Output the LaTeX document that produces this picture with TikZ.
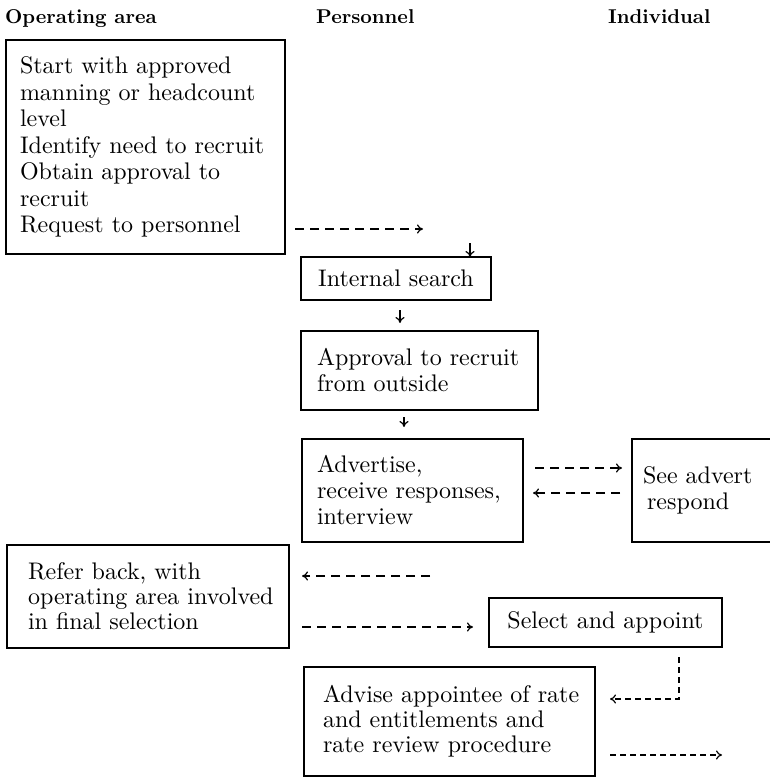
\documentclass[tikz,border=0pt]{standalone}
\usepackage{fontspec}
\setmainfont{lmroman10}[Extension=.otf, UprightFont=*-regular, BoldFont=*-bold,
  ItalicFont=*-italic, BoldItalicFont=*-bolditalic]
\usetikzlibrary{arrows.meta,calc}
\begin{document}
\begin{tikzpicture}[x=1pt,y=-1pt,
  hdr/.style={anchor=base west, inner sep=0pt, font=\fontsize{20}{24}\selectfont\bfseries},
  box/.style={draw, line width=1.3pt, rectangle, anchor=north west, outer sep=0pt,
              inner xsep=0pt, inner ysep=0pt, align=left,
              font=\fontsize{24}{26}\selectfont},
  tight/.style={font=\fontsize{24}{25}\selectfont},
  tip/.style={-{To[length=6pt,width=9pt]}},
  sarr/.style={line width=1.2pt, tip},
  darr/.style={line width=1.2pt, dash pattern=on 9pt off 6pt, tip},
  darrfine/.style={line width=1.2pt, dash pattern=on 6pt off 4pt, tip}]

\fill[white] (0,0) rectangle (769,778);
\useasboundingbox (0,0) rectangle (769,778);

% column headings
\node[hdr] (hOp) at (5,24)   {Operating area};
\node[hdr] (hPe) at (316,24) {Personnel};
\node[hdr] (hIn) at (608,24) {Individual};

% process boxes (text width + 2 * inner xsep = box width)
\node[box, text width=251pt, inner xsep=14pt, minimum height=214pt, font=\fontsize{24}{26.5}\selectfont] (req) at (6,40)
  {Start with approved\\manning or headcount\\level\\\mbox{Identify need to recruit}\\Obtain approval to\\recruit\\Request to personnel};
\node[box, minimum width=190pt, minimum height=43pt] (srch) at (301,257) {Internal search};
\node[box, text width=205pt, inner xsep=16pt, minimum height=79pt] (appr) at (301,331)
  {\mbox{Approval to recruit}\\from outside};
\node[box, text width=191pt, inner xsep=15pt, minimum height=103pt] (adv) at (302,439)
  {Advertise,\\\mbox{receive responses,}\\interview};
\node[box, text width=130pt, inner xsep=11pt, minimum height=103pt] (see) at (632,439)
  {See advert\\\hspace*{4pt}respond};
\node[box, tight, text width=240pt, inner xsep=21pt, minimum height=103pt] (refer) at (7,545)
  {Refer back, with\\\mbox{operating area involved}\\in final selection};
\node[box, minimum width=233pt, minimum height=49pt] (sel) at (489,598) {Select and appoint};
\node[box, tight, text width=253pt, inner xsep=19pt, minimum height=109pt] (advise) at (304,667)
  {\mbox{Advise appointee of rate}\\and entitlements and\\\mbox{rate review procedure}};

% helper coordinates for connector rows and columns
\coordinate (reqOut) at (423,229);
\coordinate (drop) at (470,243);
\coordinate (xa) at (400,0);
\coordinate (xb) at (404,0);
\coordinate (ya) at (0,468);
\coordinate (yb) at (0,493);
\coordinate (yc) at (0,576);
\coordinate (backIn) at (430,576);
\coordinate (yd) at (0,627);
\coordinate (xe) at (679,0);
\coordinate (ye) at (0,699);
\coordinate (yf) at (0,755);
\coordinate (fwdOut) at (722,755);

% connectors
\draw[darr] ($(req.south east)+(10,-25)$) -- (reqOut);
\draw[sarr] (drop) -- (srch.north -| drop);
\draw[sarr, shorten <=10pt, shorten >=8pt] (srch.south -| xa) -- (appr.north -| xa);
\draw[sarr, shorten <=7pt, shorten >=12pt] (appr.south -| xb) -- (adv.north -| xb);
\draw[darr, shorten <=12pt, shorten >=10pt] (adv.east |- ya) -- (see.west |- ya);
\draw[darr, shorten <=12pt, shorten >=10pt] (see.west |- yb) -- (adv.east |- yb);
\draw[darr, shorten >=13pt] (backIn) -- (refer.east |- yc);
\draw[darr, shorten <=13pt, shorten >=16pt] (refer.east |- yd) -- (sel.west |- yd);
\draw[darrfine, shorten <=10pt, shorten >=15pt] (sel.south -| xe) |- (advise.east |- ye);
\draw[darrfine, shorten <=15pt] (advise.east |- yf) -- (fwdOut);
\end{tikzpicture}
\end{document}
